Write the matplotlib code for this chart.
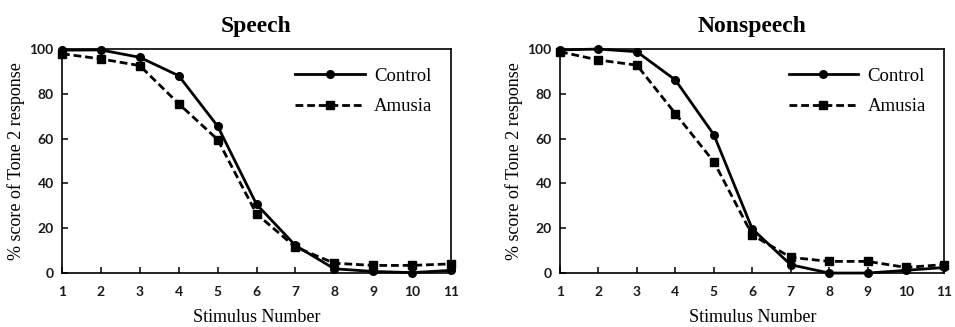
import matplotlib
matplotlib.use("Agg")
import matplotlib.pyplot as plt

# stimulus steps 1..11
stimulus = [1, 2, 3, 4, 5, 6, 7, 8, 9, 10, 11]

# Speech condition (% Tone 2 responses)
speech_control = [99.5, 99.6, 96.3, 88.1, 65.6, 30.7, 12.3, 1.9, 0.7, 0.2, 1.2]
speech_amusia = [97.9, 95.6, 92.6, 75.6, 59.6, 26.4, 11.6, 4.4, 3.4, 3.4, 4.1]

# Nonspeech condition
nonspeech_control = [99.6, 100.0, 98.8, 86.2, 61.8, 19.7, 3.7, 0.0, 0.0, 1.2, 2.5]
nonspeech_amusia = [98.8, 95.1, 92.8, 71.2, 49.7, 17.0, 7.0, 5.2, 5.2, 2.5, 3.8]

titles = ["Speech", "Nonspeech"]
yticks = [0, 20, 40, 60, 80, 100]

serif = "Liberation Serif"
tickfont = "Lato"

fig = plt.figure(figsize=(9.55, 3.27), dpi=100)
ax1 = fig.add_axes([0.0649, 0.165, 0.4074, 0.685])
ax2 = fig.add_axes([0.5864, 0.165, 0.4026, 0.685])

panels = [(ax1, speech_control, speech_amusia, titles[0]),
          (ax2, nonspeech_control, nonspeech_amusia, titles[1])]

for ax, ctrl, amus, title in panels:
    ax.plot(stimulus, ctrl, color="black", linestyle="-", linewidth=2,
            marker="o", markersize=5.5, label="Control", clip_on=False, zorder=3)
    ax.plot(stimulus, amus, color="black", linestyle=(0, (2.8, 1.4)), linewidth=2,
            marker="s", markersize=5.5, label="Amusia", clip_on=False, zorder=3)
    ax.set_xlim(1, 11)
    ax.set_ylim(0, 100)
    ax.set_xticks(stimulus)
    ax.set_yticks(yticks)
    ax.tick_params(direction="in", length=4, width=1.1)
    ax.tick_params(axis="x", pad=9)
    ax.tick_params(axis="y", pad=6)
    for lab in ax.get_xticklabels() + ax.get_yticklabels():
        lab.set_fontfamily(tickfont)
        lab.set_fontweight("bold")
        lab.set_fontsize(10)
        lab.set_color("#1a1a1a")
    for sp in ax.spines.values():
        sp.set_linewidth(1.2)
    ax.set_title(title, fontfamily=serif, fontweight="bold", fontsize=17, pad=12)
    ax.set_xlabel("Stimulus Number", fontfamily=serif, fontsize=13, labelpad=8)
    ax.set_ylabel("% score of Tone 2 response", fontfamily=serif, fontsize=13, labelpad=3)
    ax.legend(loc="upper right", frameon=False, prop={"family": serif, "size": 13.5},
              handlelength=3.7, labelspacing=0.7, borderaxespad=0.6, handletextpad=0.5)

fig.savefig("out.png", dpi=100)
